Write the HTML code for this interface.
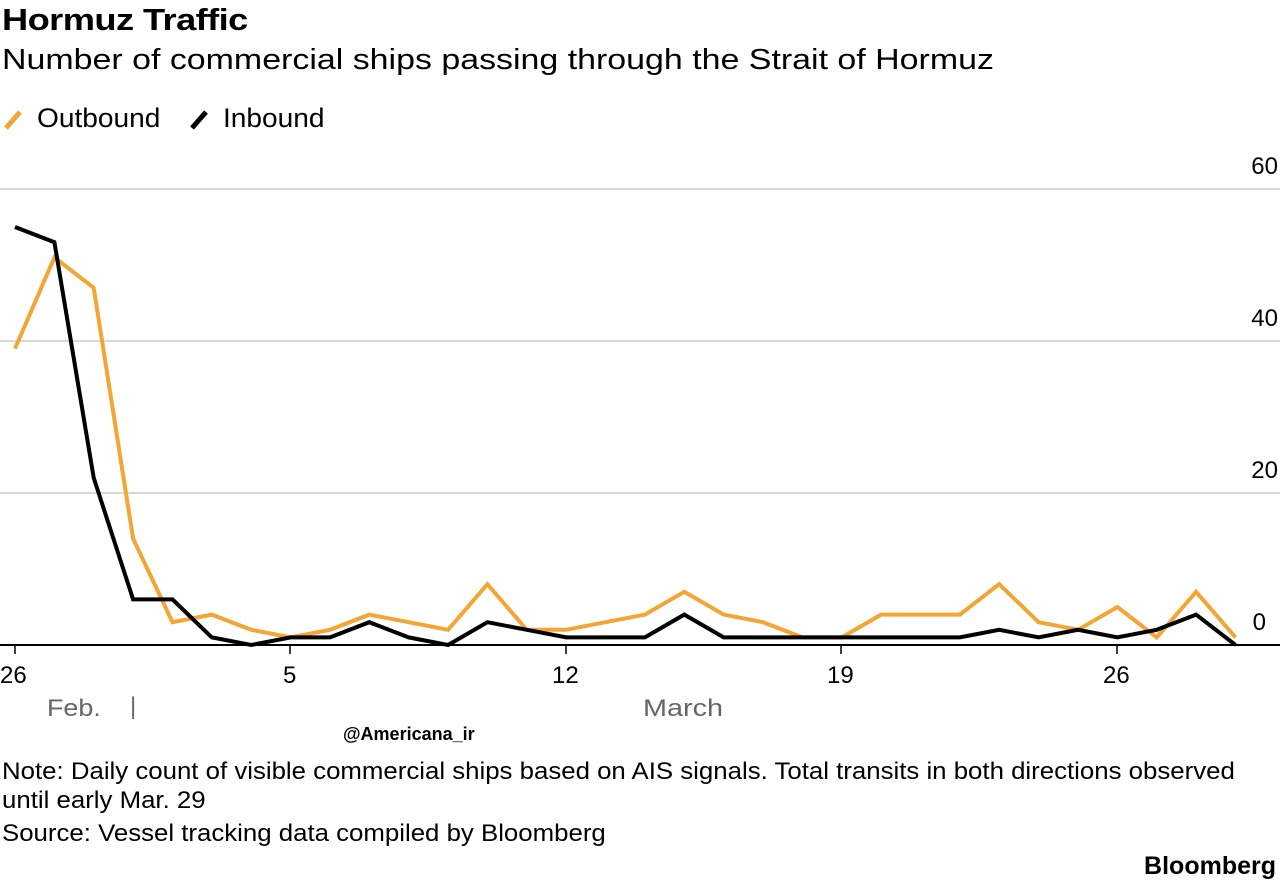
<!DOCTYPE html>
<html><head><meta charset="utf-8"><style>
body{margin:0;width:1280px;height:886px;background:#fff;font-family:"Liberation Sans",sans-serif;overflow:hidden;position:relative;color:#000}
.t{position:absolute;white-space:nowrap;transform-origin:0 0}
</style></head><body>
<div class="t" style="left:2px;top:2px;font-size:31px;font-weight:bold;letter-spacing:-0.5px;transform:scaleX(1.17)">Hormuz Traffic</div>
<div class="t" style="left:2px;top:44px;font-size:29px;transform:scaleX(1.17)">Number of commercial ships passing through the Strait of Hormuz</div>
<svg width="1280" height="886" style="position:absolute;left:0;top:0">
<line x1="6" y1="128" x2="20" y2="112" stroke="#f4a533" stroke-width="5"/>
<line x1="192" y1="128" x2="206" y2="112" stroke="#000" stroke-width="5"/>
<g stroke="#ccc" stroke-width="1.5">
<line x1="0" y1="189" x2="1280" y2="189"/>
<line x1="0" y1="341" x2="1280" y2="341"/>
<line x1="0" y1="493" x2="1280" y2="493"/>
</g>
<line x1="0" y1="645" x2="1280" y2="645" stroke="#000" stroke-width="2"/>
<g stroke="#000" stroke-width="1.5">
<line x1="15" y1="645" x2="15" y2="654"/><line x1="290" y1="645" x2="290" y2="654"/>
<line x1="566" y1="645" x2="566" y2="654"/><line x1="841" y1="645" x2="841" y2="654"/>
<line x1="1117" y1="645" x2="1117" y2="654"/>
</g>
<polyline id="o" fill="none" stroke="#f4a533" stroke-width="4" points=""/>
<polyline id="i" fill="none" stroke="#000" stroke-width="4" points=""/>
</svg>
<div class="t" style="left:37px;top:103px;font-size:27px;transform:scaleX(1.04)">Outbound</div>
<div class="t" style="left:223px;top:103px;font-size:27px;transform:scaleX(1.04)">Inbound</div>
<div class="t" style="right:2px;top:153px;font-size:24px">60</div>
<div class="t" style="right:2px;top:305px;font-size:24px">40</div>
<div class="t" style="right:2px;top:457px;font-size:24px">20</div>
<div class="t" style="right:14px;top:609px;font-size:24px">0</div>
<div class="t" style="left:0px;top:662px;font-size:24px">26</div>
<div class="t" style="left:283px;top:662px;font-size:24px">5</div>
<div class="t" style="left:552px;top:662px;font-size:24px">12</div>
<div class="t" style="left:827px;top:662px;font-size:24px">19</div>
<div class="t" style="left:1103px;top:662px;font-size:24px">26</div>
<div class="t" style="left:47px;top:695px;font-size:24px;color:#666;transform:scaleX(1.12)">Feb.</div>
<div class="t" style="left:130px;top:693px;font-size:24px;color:#666">|</div>
<div class="t" style="left:643px;top:695px;font-size:24px;color:#666;transform:scaleX(1.2)">March</div>
<div class="t" style="left:343px;top:724px;font-size:18px;font-weight:bold">@Americana_ir</div>
<div class="t" style="left:2px;top:757px;font-size:24px;line-height:29px;transform:scaleX(1.075)">Note: Daily count of visible commercial ships based on AIS signals. Total transits in both directions observed<br>until early Mar. 29</div>
<div class="t" style="left:2px;top:820px;font-size:24px;transform:scaleX(1.075)">Source: Vessel tracking data compiled by Bloomberg</div>
<div class="t" style="right:4px;top:852px;font-size:25px;font-weight:bold">Bloomberg</div>
<script>
var o=[39,51,47,14,3,4,2,1,2,4,3,2,8,2,2,3,4,7,4,3,1,1,4,4,4,8,3,2,5,1,7,1];
var n=[55,53,22,6,6,1,0,1,1,3,1,0,3,2,1,1,1,4,1,1,1,1,1,1,1,2,1,2,1,2,4,0];
function p(a){return a.map(function(v,k){return (15+k*39.37).toFixed(1)+","+(645-v*7.6).toFixed(1)}).join(" ")}
document.getElementById("o").setAttribute("points",p(o));
document.getElementById("i").setAttribute("points",p(n));
</script>
</body></html>
